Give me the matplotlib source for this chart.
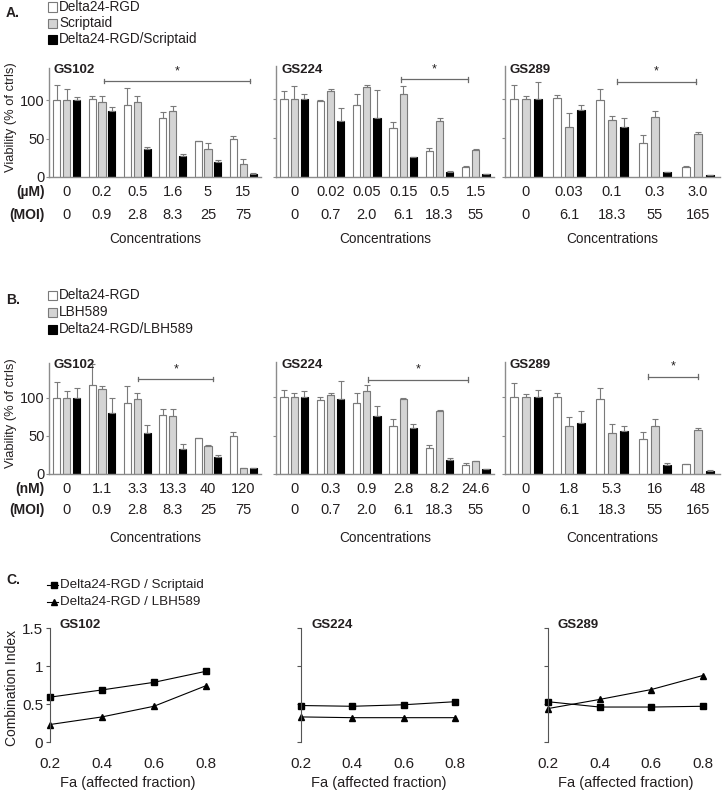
import matplotlib
matplotlib.use("Agg")
import matplotlib.pyplot as plt
import matplotlib.transforms as mtransforms
from matplotlib.patches import Rectangle
from matplotlib.lines import Line2D
import numpy as np

plt.rcParams['font.family'] = ['Liberation Sans', 'DejaVu Sans']

W, H = 723, 791
TXT = '#231f20'
AXC = '#8c8c8c'

cell_lines = ['GS102', 'GS224', 'GS289']

# ---------- A: Delta24-RGD + Scriptaid ----------
a_conc = [['0', '0.2', '0.5', '1.6', '5', '15'],
          ['0', '0.02', '0.05', '0.15', '0.5', '1.5'],
          ['0', '0.03', '0.1', '0.3', '3.0']]
a_moi = [['0', '0.9', '2.8', '8.3', '25', '75'],
         ['0', '0.7', '2.0', '6.1', '18.3', '55'],
         ['0', '6.1', '18.3', '55', '165']]
a_virus = [[100, 101, 93.5, 77, 46.5, 49],
           [100, 97, 92.6, 63, 33, 13],
           [100, 101, 98, 44, 13]]
a_virus_err = [[20, 5, 22, 8, 1, 5],
               [10, 2, 13, 8, 4, 1],
               [18, 4, 14, 10, 0.5]]
a_drug = [[100, 98, 98, 86, 36, 17],
          [100, 110, 115, 106, 72, 35],
          [100, 63.5, 73.5, 77, 55]]
a_drug_err = [[14, 7, 7, 7, 8, 7],
              [16, 2, 3, 11, 4, 1],
              [4, 18, 5, 8, 3]]
a_combo = [[100, 86, 36, 28, 19, 4],
           [100, 72, 75, 25, 6.5, 3.5],
           [100, 86, 63.5, 6, 2]]
a_combo_err = [[4, 5, 3, 2, 3, 1],
               [6, 16, 36, 1, 1, 0.5],
               [21, 6, 12, 0.5, 0.3]]
a_sig = [(1.05, 5.2, 125), (2.93, 4.78, 125), (2.11, 3.95, 122)]

# ---------- B: Delta24-RGD + LBH589 ----------
b_conc = [['0', '1.1', '3.3', '13.3', '40', '120'],
          ['0', '0.3', '0.9', '2.8', '8.2', '24.6'],
          ['0', '1.8', '5.3', '16', '48']]
b_moi = a_moi
b_virus = [[100, 117.5, 93.5, 78, 47, 50],
           [100, 97, 92.6, 63, 33.5, 12],
           [100, 100, 98, 45, 13]]
b_virus_err = [[21, 27, 22, 8, 1, 5.5],
               [10, 3, 13, 9, 4, 2],
               [18, 5, 14, 10, 0.5]]
b_drug = [[100, 111.4, 98, 76, 37, 7.5],
          [100, 103, 108, 98, 82, 16.5],
          [100, 62, 53.5, 63, 57]]
b_drug_err = [[9, 4, 8, 9, 1, 1],
              [5, 3, 8, 1, 1, 1],
              [4, 12, 12, 9, 3]]
b_combo = [[100, 80, 54, 33, 22, 8],
           [100, 98, 76, 59.5, 18, 6.5],
           [100, 66.5, 55.6, 12, 4]]
b_combo_err = [[13, 20, 11, 6, 3, 0.5],
               [8, 23, 12, 6, 3.5, 0.5],
               [9, 15, 7, 2, 1]]
b_sig = [(2.03, 4.15, 125), (2.03, 4.78, 123), (2.84, 4.0, 127)]

# ---------- C: combination index ----------
fa = [0.2, 0.4, 0.6, 0.8]
ci_scriptaid = [[0.59, 0.685, 0.785, 0.93],
                [0.48, 0.47, 0.49, 0.53],
                [0.53, 0.46, 0.46, 0.47]]
ci_lbh = [[0.23, 0.33, 0.47, 0.74],
          [0.33, 0.32, 0.32, 0.32],
          [0.44, 0.56, 0.69, 0.875]]

fig = plt.figure(figsize=(W / 100, H / 100), dpi=100)


def px_axes(l, t, r, b):
    return fig.add_axes([l / W, 1 - b / H, (r - l) / W, (b - t) / H])


def ftxt(x, y, s, **kw):
    kw.setdefault('color', TXT)
    fig.text(x / W, 1 - y / H, s, **kw)


def bar_panel(ax, virus, verr, drug, derr, combo, cerr, ylim, sig):
    n = len(virus)
    x = np.arange(n)
    w, off = 0.2, 0.28
    ekw = dict(ecolor='#7a7a7a', elinewidth=0.8, capsize=2, capthick=0.8)
    z = [0] * n
    ax.bar(x - off, virus, w, color='white', edgecolor='#7a7a7a', lw=0.8,
           yerr=[z, verr], error_kw=ekw)
    ax.bar(x, drug, w, color='#d4d4d4', edgecolor='#7a7a7a', lw=0.8,
           yerr=[z, derr], error_kw=ekw)
    ax.bar(x + off, combo, w, color='black', edgecolor='black', lw=0.8,
           yerr=[z, cerr], error_kw=ekw)
    ax.set_xlim(-0.5, n - 0.5)
    ax.set_ylim(0, ylim)
    ax.set_yticks([0, 50, 100])
    ax.set_xticks([])
    for s in ['top', 'right']:
        ax.spines[s].set_visible(False)
    for s in ['left', 'bottom']:
        ax.spines[s].set_color(AXC)
        ax.spines[s].set_linewidth(1)
    ax.tick_params(axis='y', length=2, color=AXC, pad=1, labelsize=10.5,
                   labelcolor=TXT)
    x0, x1, yb = sig
    ax.plot([x0, x1], [yb, yb], color='#6a6a6a', lw=0.9)
    ax.plot([x0, x0], [yb - 3, yb + 3], color='#6a6a6a', lw=0.9)
    ax.plot([x1, x1], [yb - 3, yb + 3], color='#6a6a6a', lw=0.9)
    ax.text((x0 + x1) / 2, yb + 5, '*', ha='center', va='bottom',
            fontsize=9, color=TXT)


def legend_boxes(x, ys, labels, faces, edges):
    for y, lab, fc, ec in zip(ys, labels, faces, edges):
        fig.add_artist(Rectangle((x / W, 1 - (y + 4.5) / H), 9 / W, 9 / H,
                                 transform=fig.transFigure, facecolor=fc,
                                 edgecolor=ec, lw=0.8))
        ftxt(x + 11, y, lab, fontsize=9.8, va='center', ha='left')


boxes = [(49, 261), (276, 494), (504.5, 719.5)]


def bar_row(tops, bottom, ylim, virus, verr, drug, derr, combo, cerr,
            sig, conc, moi, unit, y_conc, y_moi, y_label):
    for i in range(3):
        l, r = boxes[i]
        ax = px_axes(l, tops[i], r, bottom)
        bar_panel(ax, virus[i], verr[i], drug[i], derr[i], combo[i], cerr[i],
                  ylim, sig[i])
        if i > 0:
            ax.set_yticklabels([])
        tr = mtransforms.blended_transform_factory(ax.transData, fig.transFigure)
        for j, (c, m) in enumerate(zip(conc[i], moi[i])):
            ax.text(j, 1 - y_conc / H, c, transform=tr, ha='center',
                    va='center', fontsize=10.5, color=TXT)
            ax.text(j, 1 - y_moi / H, m, transform=tr, ha='center',
                    va='center', fontsize=10.5, color=TXT)
        ftxt((l + r) / 2, y_label, 'Concentrations', ha='center',
             va='center', fontsize=9.8)
        ftxt(l + 5, tops[0] + 2, cell_lines[i], ha='left', va='center',
             fontsize=9.5, fontweight='bold')
    ftxt(45, y_conc, unit, ha='right', va='center', fontsize=10,
         fontweight='bold')
    ftxt(45, y_moi, '(MOI)', ha='right', va='center', fontsize=10,
         fontweight='bold')


# ----- A -----
ftxt(6, 13, 'A.', fontsize=10, fontweight='bold', va='center')
legend_boxes(48, [7, 23, 39], ['Delta24-RGD', 'Scriptaid', 'Delta24-RGD/Scriptaid'],
             ['white', '#d4d4d4', 'black'], ['#7a7a7a', '#7a7a7a', 'black'])
bar_row([68, 66, 66], 177, 142, a_virus, a_virus_err, a_drug, a_drug_err,
        a_combo, a_combo_err, a_sig, a_conc, a_moi, '(\u00b5M)', 192, 215, 239)
ftxt(11, 117, 'Viability (% of ctrls)', rotation=90, ha='center', va='center',
     fontsize=9.3)

# ----- B -----
ftxt(6, 300, 'B.', fontsize=10, fontweight='bold', va='center')
legend_boxes(48, [295, 312, 329], ['Delta24-RGD', 'LBH589', 'Delta24-RGD/LBH589'],
             ['white', '#d4d4d4', 'black'], ['#7a7a7a', '#7a7a7a', 'black'])
bar_row([363, 362, 362], 474, 146, b_virus, b_virus_err, b_drug, b_drug_err,
        b_combo, b_combo_err, b_sig, b_conc, b_moi, '(nM)', 489, 510, 538)
ftxt(11, 413, 'Viability (% of ctrls)', rotation=90, ha='center', va='center',
     fontsize=9.3)

# ----- C -----
ftxt(6, 580, 'C.', fontsize=10, fontweight='bold', va='center')
for y, mk, lab in [(585, 's', 'Delta24-RGD / Scriptaid'),
                   (602, '^', 'Delta24-RGD / LBH589')]:
    fig.add_artist(Line2D([47 / W, 58 / W], [1 - y / H, 1 - y / H],
                          transform=fig.transFigure, color='black', lw=0.8))
    fig.add_artist(Line2D([54 / W], [1 - y / H], transform=fig.transFigure,
                          marker=mk, color='black', ms=4.5, lw=0))
    ftxt(60, y, lab, fontsize=9.6, va='center', ha='left')

c_boxes = [(50, 211), (301, 460), (548, 708)]
for i in range(3):
    l, r = c_boxes[i]
    ax = px_axes(l, 628, r, 742)
    ax.plot(fa, ci_scriptaid[i], color='black', lw=0.8, marker='s', ms=4.5,
            clip_on=False)
    ax.plot(fa, ci_lbh[i], color='black', lw=0.8, marker='^', ms=4.5,
            clip_on=False)
    ax.set_xlim(0.2, 0.82)
    ax.set_ylim(0, 1.5)
    ax.set_xticks(fa)
    ax.set_xticklabels(['0.2', '0.4', '0.6', '0.8'])
    ax.set_yticks([0, 0.5, 1, 1.5])
    if i == 0:
        ax.set_yticklabels(['0', '0.5', '1', '1.5'])
    else:
        ax.set_yticklabels([])
    for s in ['top', 'right', 'bottom']:
        ax.spines[s].set_visible(False)
    ax.spines['left'].set_color('#555555')
    ax.spines['left'].set_linewidth(0.8)
    ax.tick_params(axis='x', length=0, pad=11, labelsize=11, labelcolor=TXT)
    ax.tick_params(axis='y', length=3, color='#555555', pad=2, labelsize=11,
                   labelcolor=TXT)
    ftxt(l + 10, 625, cell_lines[i], ha='left', va='center', fontsize=9.5,
         fontweight='bold')
    ftxt(l + 78, 783, 'Fa (affected fraction)', ha='center', va='center',
         fontsize=10.5)
ftxt(12, 688, 'Combination Index', rotation=90, ha='center', va='center',
     fontsize=10)

fig.savefig('out.png', dpi=100)
